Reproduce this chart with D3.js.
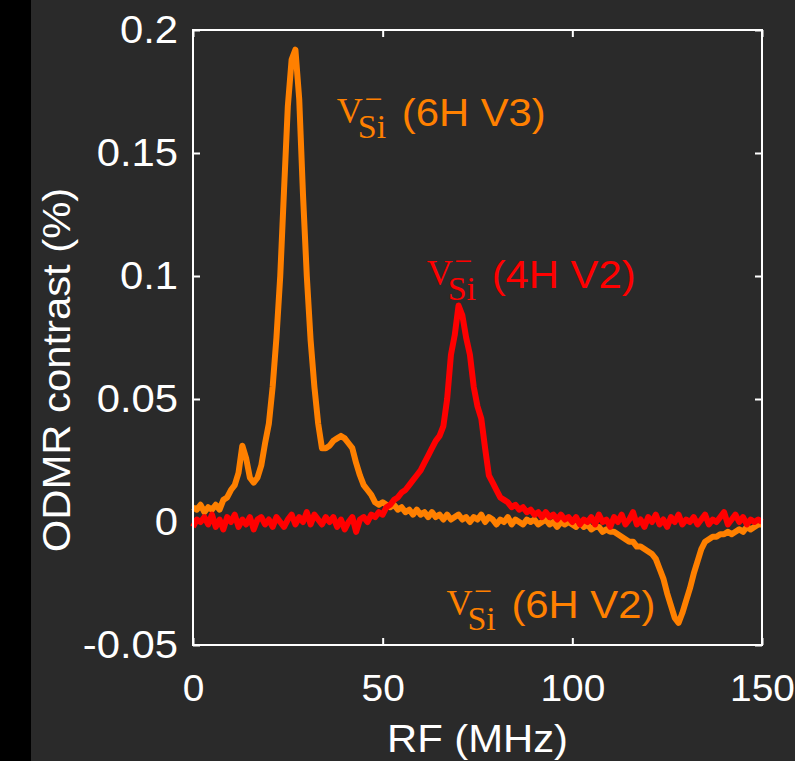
<!DOCTYPE html>
<html>
<head>
<meta charset="utf-8">
<script src="https://cdn.jsdelivr.net/npm/d3@7"></script>
<style>
  html, body { margin: 0; padding: 0; background: #2a2a2a; }
  svg { display: block; }
</style>
</head>
<body>
<svg id="chart"></svg>
<script>
// RF frequency grid (MHz), one sample per MHz
const freqMHz = d3.range(0, 151, 1);

// 6H-SiC sample (V3 peak + V2 dip), ODMR contrast in %
const contrast6H = [
  0.006, 0.005, 0.007, 0.004, 0.006, 0.005, 0.007, 0.005, 0.009, 0.010,
  0.013, 0.015, 0.020, 0.031, 0.026, 0.018, 0.016, 0.018, 0.023, 0.032,
  0.040, 0.055, 0.075, 0.100, 0.135, 0.169, 0.188, 0.192, 0.172, 0.133,
  0.100, 0.074, 0.055, 0.040, 0.030, 0.030, 0.031, 0.033, 0.034, 0.035,
  0.034, 0.032, 0.030, 0.024, 0.019, 0.015, 0.013, 0.011, 0.008, 0.007,
  0.008, 0.007, 0.006, 0.007, 0.005, 0.006, 0.004, 0.005, 0.003, 0.005,
  0.003, 0.004, 0.002, 0.004, 0.002, 0.003, 0.001, 0.003, 0.001, 0.002,
  0.003, 0.001, 0.002, 0.000, 0.002, 0.001, 0.003, 0.000, 0.002, 0.001,
  -0.001, 0.001, 0.000, 0.002, -0.001, 0.001, 0.000, -0.001, 0.001, 0.000,
  0.001, -0.001, 0.000, 0.001, -0.001, 0.000, -0.002, 0.000, -0.001, 0.000,
  -0.001, -0.002, 0.000, -0.002, -0.001, -0.003, -0.002, -0.002, -0.004, -0.003,
  -0.004, -0.004, -0.005, -0.006, -0.007, -0.008, -0.008, -0.010, -0.010, -0.011,
  -0.012, -0.013, -0.015, -0.019, -0.023, -0.029, -0.034, -0.039, -0.041, -0.037,
  -0.032, -0.027, -0.021, -0.016, -0.011, -0.008, -0.007, -0.006, -0.006, -0.005,
  -0.005, -0.004, -0.005, -0.004, -0.003, -0.004, -0.002, -0.003, -0.002, -0.001,
  -0.001
];

// 4H-SiC sample (V2 peak), ODMR contrast in %
const contrast4H = [
  -0.002, 0.001, 0.000, 0.002, -0.001, 0.003, -0.002, 0.001, -0.003, 0.002,
  0.000, 0.003, -0.002, 0.001, -0.001, 0.002, -0.003, 0.001, 0.002, -0.001,
  0.001, -0.002, 0.002, 0.000, -0.002, 0.001, 0.003, -0.001, 0.002, 0.000,
  0.004, -0.001, 0.003, 0.001, -0.001, 0.002, 0.000, 0.002, -0.002, 0.001,
  -0.003, 0.000, 0.002, -0.004, 0.001, 0.002, 0.000, 0.003, 0.002, 0.004,
  0.003, 0.006, 0.007, 0.009, 0.010, 0.012, 0.013, 0.015, 0.017, 0.019,
  0.021, 0.024, 0.027, 0.030, 0.033, 0.035, 0.039, 0.050, 0.068, 0.076,
  0.088, 0.084, 0.075, 0.068, 0.055, 0.047, 0.042, 0.030, 0.019, 0.016,
  0.013, 0.010, 0.009, 0.008, 0.006, 0.007, 0.005, 0.006, 0.004, 0.005,
  0.003, 0.004, 0.002, 0.004, 0.002, 0.003, 0.001, 0.003, 0.001, 0.002,
  0.000, 0.002, -0.001, 0.001, 0.000, 0.002, -0.001, 0.003, 0.000, 0.001,
  -0.002, 0.002, 0.000, 0.003, -0.001, 0.001, 0.004, -0.001, 0.001, -0.002,
  0.002, 0.000, 0.003, -0.001, 0.001, -0.002, 0.002, 0.000, 0.003, -0.001,
  0.001, 0.000, 0.002, -0.001, 0.001, 0.003, -0.001, 0.001, 0.000, 0.002,
  0.004, -0.001, 0.001, 0.003, 0.000, 0.002, -0.001, 0.001, 0.000, 0.001,
  0.000
];

const xTicks = [0, 50, 100, 150];
const xTickLabels = ["0", "50", "100", "150"];
const yTicks = [-0.05, 0, 0.05, 0.1, 0.15, 0.2];
const yTickLabels = ["-0.05", "0", "0.05", "0.1", "0.15", "0.2"];

const seriesNames = ["(6H V3)", "(4H V2)", "(6H V2)"];

const W = 795, H = 761;
const margin = { top: 30, right: 33, bottom: 116, left: 193 };
const width = W - margin.left - margin.right;
const height = H - margin.top - margin.bottom;
const sx = 1.1; // text in the source is a bit wider than Arial

const orange = "#ff8000";
const red = "#ff0000";

const svg = d3.select("#chart").attr("width", W).attr("height", H);

svg.append("rect").attr("width", W).attr("height", H).attr("fill", "#2a2a2a");
svg.append("rect").attr("width", 31).attr("height", H).attr("fill", "#000");

const g = svg.append("g").attr("transform", `translate(${margin.left},${margin.top})`);

const x = d3.scaleLinear().domain([0, 150]).range([0, width]);
const y = d3.scaleLinear().domain([-0.05, 0.2]).range([height, 0]);

// axes with inward ticks
const fmtX = d => xTickLabels[xTicks.indexOf(d)];
const fmtY = d => yTickLabels[yTicks.indexOf(d)];

function styleAxis(sel) {
  sel.select(".domain").remove();
  sel.selectAll(".tick line").attr("stroke", "#fff").attr("stroke-width", 2);
  sel.selectAll(".tick text")
    .attr("fill", "#fff")
    .attr("font-family", "'Liberation Sans', Arial, sans-serif")
    .attr("font-size", 38);
}

g.append("g")
  .call(d3.axisLeft(y).tickValues(yTicks).tickFormat(fmtY).tickSizeInner(-7).tickSizeOuter(0).tickPadding(15))
  .call(styleAxis)
  .selectAll(".tick text").attr("transform", `scale(${sx},1)`).attr("x", -15 / sx);

g.append("g")
  .attr("transform", `translate(${width},0)`)
  .call(d3.axisRight(y).tickValues(yTicks).tickFormat("").tickSizeInner(-7).tickSizeOuter(0))
  .call(styleAxis);

g.append("g")
  .attr("transform", `translate(0,${height})`)
  .call(d3.axisBottom(x).tickValues(xTicks).tickFormat(fmtX).tickSizeInner(-7).tickSizeOuter(0).tickPadding(30))
  .call(styleAxis)
  .selectAll(".tick text").attr("font-size", 37).attr("transform", "scale(1.05,1)");

g.append("g")
  .call(d3.axisTop(x).tickValues(xTicks).tickFormat("").tickSizeInner(-7).tickSizeOuter(0))
  .call(styleAxis);

// curves
const line = d3.line()
  .x((d, i) => x(freqMHz[i]))
  .y(d => y(d));

g.append("path")
  .datum(contrast6H)
  .attr("fill", "none")
  .attr("stroke", orange)
  .attr("stroke-width", 6)
  .attr("stroke-linejoin", "round")
  .attr("d", line);

g.append("path")
  .datum(contrast4H)
  .attr("fill", "none")
  .attr("stroke", red)
  .attr("stroke-width", 6)
  .attr("stroke-linejoin", "round")
  .attr("d", line);

// box
g.append("rect")
  .attr("width", width).attr("height", height)
  .attr("fill", "none").attr("stroke", "#fff").attr("stroke-width", 2);

// annotations: V_Si^- (...)
function note(mhz, val, color, label) {
  const px = x(mhz), py = y(val);
  const a = g.append("g").attr("fill", color).attr("transform", `translate(${px},${py})`);
  const sym = a.append("text").attr("font-family", "'Liberation Serif', 'Times New Roman', serif");
  sym.append("tspan").attr("font-size", 36).text("V");
  sym.append("tspan").attr("font-size", 34).attr("dx", -5).attr("dy", 15).text("Si");
  sym.append("tspan").attr("font-size", 32).attr("dx", -22).attr("dy", -28).text("\u2212");
  a.append("text").attr("font-family", "'Liberation Sans', Arial, sans-serif")
    .attr("font-size", 38)
    .attr("transform", `translate(65,3) scale(${sx},1)`).text(label);
}

note(37.9, 0.162, orange, seriesNames[0]);
note(61.6, 0.0963, red, seriesNames[1]);
note(66.8, -0.0378, orange, seriesNames[2]);

// axis labels
g.append("text")
  .attr("transform", `translate(${width / 2},${height + 107}) scale(${sx},1)`)
  .attr("text-anchor", "middle")
  .attr("fill", "#fff")
  .attr("font-family", "'Liberation Sans', Arial, sans-serif")
  .attr("font-size", 38)
  .text("RF (MHz)");

svg.append("text")
  .attr("transform", `translate(70,370) rotate(-90) scale(${sx},1)`)
  .attr("text-anchor", "middle")
  .attr("fill", "#fff")
  .attr("font-family", "'Liberation Sans', Arial, sans-serif")
  .attr("font-size", 38)
  .text("ODMR contrast (%)");
</script>
</body>
</html>
